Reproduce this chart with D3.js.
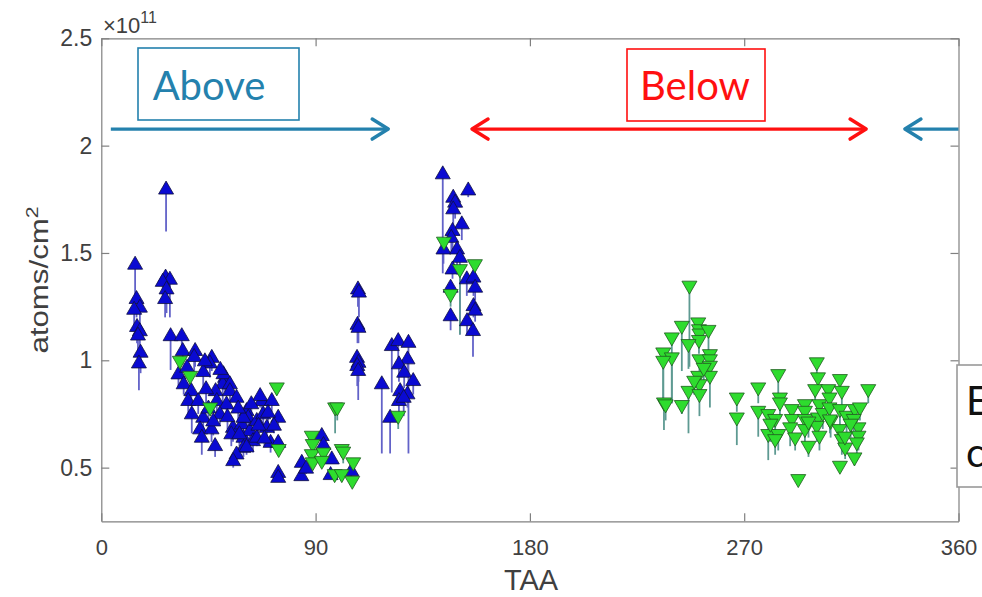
<!DOCTYPE html>
<html>
<head>
<meta charset="utf-8">
<script src="https://cdn.jsdelivr.net/npm/d3@7"></script>
<style>
  body { margin: 0; background: #fff; }
  svg { font-family: "Liberation Sans", Arial, sans-serif; }
  .axis path, .axis line { stroke: #808080; stroke-width: 1.2; }
  .axis text { fill: #404040; }
</style>
</head>
<body>
<div id="chart"></div>
<script>
// values in units of 1e11 atoms/cm^2, TAA in degrees
// upward triangles (blue)
var upTaa = [14.2, 14.8, 16.2, 13.8, 15.0, 16.2, 15.4, 16.5, 15.8,
  27.2, 27.0, 28.8, 25.8, 27.4, 26.8, 29.1, 33.8,
  34.2, 39.4, 39.0, 46.4, 45.6, 32.4, 42.8, 34.6, 52.0, 51.0, 51.3, 54.0, 48.0, 37.8, 36.5, 40.7, 48.5, 54.0,
  56.8, 52.6, 49.8, 38.0, 42.8, 41.5, 42.2, 47.8, 46.3, 55.3, 54.6, 59.0, 59.7, 61.0, 61.7, 59.7, 62.4, 63.7,
  65.3, 68.0, 67.4, 66.7, 71.6, 69.5, 65.3, 59.7, 56.8, 55.4, 71.1, 74.3, 74.3, 74.3, 74.3,
  44.0, 50.0, 57.5, 63.0, 70.0, 66.0, 58.0, 53.0, 45.0, 47.0, 36.0, 43.5, 72.5, 68.5, 61.0,
  84.2, 84.0, 92.6, 93.3, 96.8, 96.3, 105.0, 86.0,
  107.8, 108.2, 107.6, 108.0, 107.4, 108.0, 107.5, 107.9,
  117.8, 121.3, 122.0, 124.7, 129.0, 128.6, 125.0, 127.2, 131.0, 125.5, 128.6, 125.0, 127.0,
  143.4, 154.1, 147.8, 148.6, 147.8, 151.4, 147.5, 147.0, 143.7, 149.4, 150.6, 147.5, 153.5, 156.3, 157.0,
  146.7, 156.3, 157.0, 146.7, 153.6, 156.1];
var upVal = [1.45, 1.29, 1.25, 1.24, 1.16, 1.14, 1.12, 1.04, 0.99,
  1.80, 1.39, 1.38, 1.37, 1.335, 1.29, 1.117, 1.117,
  1.048, 1.048, 1.02, 1.016, 0.99, 0.939, 0.95, 0.893, 0.923, 0.893, 0.94, 0.893, 0.861, 0.861, 0.815, 0.815, 0.815, 0.861,
  0.83, 0.799, 0.753, 0.753, 0.737, 0.683, 0.644, 0.605, 0.683, 0.69, 0.66, 0.706, 0.644, 0.768, 0.737, 0.737, 0.675, 0.628,
  0.722, 0.753, 0.815, 0.838, 0.815, 0.69, 0.644, 0.597, 0.566, 0.535, 0.62, 0.737, 0.62, 0.48, 0.457,
  0.87, 0.96, 0.78, 0.80, 0.76, 0.70, 0.66, 0.74, 0.78, 0.72, 0.97, 1.00, 0.70, 0.64, 0.60,
  0.527, 0.465, 0.652, 0.61, 0.543, 0.47, 0.488, 0.50,
  1.335, 1.32, 1.17, 1.156, 1.016, 0.993, 0.978, 0.955,
  0.893, 0.737, 1.071, 1.094, 1.086, 1.009, 0.986, 0.947, 0.908, 0.861, 0.846, 0.815, 0.83,
  1.871, 1.796, 1.762, 1.739, 1.708, 1.638, 1.607, 1.575, 1.521, 1.521, 1.482, 1.428, 1.382, 1.39, 1.343,
  1.343, 1.257, 1.236, 1.21, 1.187, 1.141];
var upLow = [1.27, 1.20, 1.10, 1.14, 1.08, 1.05, 1.02, 0.94, 0.86,
  1.60, 1.30, 1.20, 1.28, 1.22, 1.20, 0.955, 1.06,
  0.98, 0.97, 0.93, 0.95, 0.92, 0.88, 0.87, 0.84, 0.85, 0.80, 0.88, 0.82, 0.78, 0.80, 0.74, 0.75, 0.72, 0.80,
  0.76, 0.72, 0.70, 0.66, 0.67, 0.62, 0.56, 0.55, 0.62, 0.62, 0.60, 0.64, 0.58, 0.70, 0.68, 0.68, 0.61, 0.57,
  0.66, 0.70, 0.76, 0.78, 0.76, 0.63, 0.60, 0.55, 0.52, 0.50, 0.57, 0.68, 0.58, 0.45, 0.44,
  0.80, 0.90, 0.72, 0.74, 0.70, 0.64, 0.60, 0.68, 0.70, 0.65, 0.92, 0.94, 0.66, 0.60, 0.56,
  0.50, 0.45, 0.60, 0.57, 0.52, 0.45, 0.46, 0.47,
  1.25, 1.20, 1.08, 1.08, 0.95, 0.90, 0.88, 0.815,
  0.566, 0.566, 0.85, 1.00, 0.566, 0.92, 0.90, 0.87, 0.84, 0.80, 0.78, 0.74, 0.74,
  1.405, 1.76, 1.70, 1.66, 1.60, 1.56, 1.50, 1.50, 1.45, 1.40, 1.12, 1.38, 1.30, 1.30, 1.28,
  1.28, 1.20, 1.18, 1.14, 1.12, 1.016];

// downward triangles (green)
var downTaa = [33.0, 37.3, 45.7, 73.7, 74.5, 88.4, 88.8, 88.4, 88.8, 93.3, 92.6, 98.2, 99.1, 101.0, 101.6, 98.0, 101.0, 105.8, 105.4,
  124.7, 143.9, 156.9, 150.6, 146.7,
  247.0, 243.8, 239.6, 250.7, 251.0, 251.2, 251.0, 255.0, 246.6, 236.0, 239.6, 236.0, 251.2, 255.6, 255.6, 255.6, 255.6,
  250.7, 251.2, 246.6, 251.2, 236.3, 237.0, 243.8, 253.0, 249.0,
  266.9, 266.9, 275.9, 275.9, 284.3, 285.0, 285.0, 280.1, 283.0, 280.1, 284.3, 283.0, 281.0, 290.0, 290.0, 289.3, 291.4,
  295.5, 295.5, 295.5, 295.5, 292.7, 300.5, 301.0, 299.8, 301.6, 301.0, 300.5, 301.6, 297.0, 297.0, 303.0,
  305.3, 305.8, 305.8, 306.3, 310.2, 311.0, 310.2, 313.0, 310.0, 311.0, 312.4, 310.2, 316.5, 318.6, 316.0, 318.0, 318.0,
  317.3, 316.3, 322.1, 314.7, 312.3, 306.0];
var downVal = [0.993, 0.923, 0.776, 0.869, 0.582, 0.644, 0.605, 0.558, 0.52, 0.566, 0.527, 0.776, 0.776, 0.582, 0.57, 0.465, 0.465, 0.52, 0.434,
  0.737, 1.548, 1.443, 1.42, 1.304,
  1.343, 1.156, 1.102, 1.172, 1.14, 1.12, 1.09, 1.137, 1.071, 1.032, 1.009, 0.993, 1.0, 1.024, 1.0, 0.97, 0.923,
  0.923, 0.884, 0.853, 0.838, 0.799, 0.79, 0.787, 0.96, 0.90,
  0.822, 0.729, 0.869, 0.76, 0.931, 0.822, 0.799, 0.745, 0.722, 0.652, 0.652, 0.628, 0.70, 0.768, 0.722, 0.683, 0.636,
  0.791, 0.76, 0.722, 0.675, 0.442, 0.986, 0.916, 0.861, 0.791, 0.729, 0.69, 0.644, 0.597, 0.71, 0.75,
  0.861, 0.822, 0.776, 0.713, 0.908, 0.853, 0.768, 0.737, 0.675, 0.628, 0.589, 0.504, 0.768, 0.776, 0.722, 0.683, 0.644,
  0.613, 0.543, 0.861, 0.70, 0.64, 0.72];
var downLow = [0.95, 0.88, 0.74, 0.84, 0.56, 0.62, 0.58, 0.53, 0.50, 0.54, 0.50, 0.66, 0.72, 0.55, 0.52, 0.45, 0.44, 0.49, 0.42,
  0.68, 1.50, 1.40, 1.12, 1.25,
  0.97, 0.95, 0.80, 1.10, 1.08, 1.06, 1.03, 0.90, 0.96, 0.80, 0.80, 0.80, 0.95, 0.97, 0.94, 0.90, 0.78,
  0.87, 0.82, 0.66, 0.74, 0.675, 0.72, 0.75, 0.90, 0.84,
  0.76, 0.605, 0.80, 0.644, 0.84, 0.76, 0.74, 0.66, 0.64, 0.535, 0.58, 0.56, 0.62, 0.70, 0.66, 0.60, 0.58,
  0.72, 0.70, 0.66, 0.60, 0.42, 0.92, 0.86, 0.80, 0.73, 0.66, 0.62, 0.58, 0.55, 0.64, 0.68,
  0.80, 0.76, 0.70, 0.64, 0.84, 0.78, 0.70, 0.66, 0.60, 0.56, 0.54, 0.48, 0.70, 0.72, 0.66, 0.62, 0.58,
  0.56, 0.51, 0.80, 0.64, 0.58, 0.66];

var xTicks = [0, 90, 180, 270, 360];
var yTicks = [0.5, 1, 1.5, 2, 2.5];

// annotation positions in data units
var aboveArrow = [4, 120.5, 2.077];
var belowArrow = [155.7, 321.2, 2.077];
var rightArrow = [337.5, 360, 2.077];

var svgWidth = 982;
var svgHeight = 597;

var margin = { top: 38.3, right: 23.5, bottom: 75.7, left: 101.3 };
var width = svgWidth - margin.left - margin.right;
var height = svgHeight - margin.top - margin.bottom;

var svg = d3
  .select("#chart")
  .append("svg")
  .attr("width", svgWidth)
  .attr("height", svgHeight);

var chartGroup = svg
  .append("g")
  .attr("transform", `translate(${margin.left}, ${margin.top})`);

var x = d3.scaleLinear().domain([0, 360]).range([0, width]);
var y = d3.scaleLinear().domain([0.25, 2.5]).range([height, 0]);

var upData = upTaa.map((t, i) => ({ t: t, v: upVal[i], lo: upLow[i] }));
var downData = downTaa.map((t, i) => ({ t: t, v: downVal[i], lo: downLow[i] }));

// frame + ticks
chartGroup
  .append("g")
  .attr("class", "axis")
  .attr("transform", `translate(0, ${height})`)
  .call(d3.axisBottom(x).tickValues(xTicks).tickSizeInner(-8).tickSizeOuter(0).tickPadding(18))
  .selectAll("text")
  .attr("font-size", "22px");

chartGroup
  .append("g")
  .attr("class", "axis")
  .call(
    d3.axisLeft(y).tickValues(yTicks).tickSizeInner(-8).tickSizeOuter(0).tickPadding(9)
      .tickFormat((d) => String(d))
  )
  .selectAll("text")
  .attr("font-size", "23px");

chartGroup
  .append("g")
  .attr("class", "axis")
  .call(d3.axisTop(x).tickValues(xTicks).tickSizeInner(-8).tickSizeOuter(0).tickFormat(""));

chartGroup
  .append("g")
  .attr("class", "axis")
  .attr("transform", `translate(${width}, 0)`)
  .call(d3.axisRight(y).tickValues(yTicks).tickSizeInner(-8).tickSizeOuter(0).tickFormat(""));

// exponent
var expo = svg.append("text").attr("x", 103).attr("y", 33).attr("fill", "#404040").attr("font-size", "22px");
expo.append("tspan").text("\u00d710");
expo.append("tspan").attr("font-size", "16px").attr("dy", "-10").text("11");

// axis labels
svg
  .append("text")
  .attr("transform", "translate(531, 590)")
  .attr("text-anchor", "middle")
  .attr("font-size", "29px")
  .attr("fill", "#404040")
  .text("TAA");

var yLabel = svg
  .append("text")
  .attr("transform", "translate(48, 280) rotate(-90) scale(1.25, 1)")
  .attr("text-anchor", "middle")
  .attr("font-size", "25px")
  .attr("fill", "#404040");
yLabel.append("tspan").text("atoms/cm");
yLabel.append("tspan").attr("font-size", "17px").attr("dy", "-10").text("2");

// stems
chartGroup
  .selectAll(".upStem")
  .data(upData)
  .enter()
  .append("line")
  .attr("class", "upStem")
  .attr("x1", (d) => x(d.t))
  .attr("x2", (d) => x(d.t))
  .attr("y1", (d) => y(d.v))
  .attr("y2", (d) => y(d.lo))
  .attr("stroke", "#6262c8")
  .attr("stroke-width", 1.8);

chartGroup
  .selectAll(".downStem")
  .data(downData)
  .enter()
  .append("line")
  .attr("class", "downStem")
  .attr("x1", (d) => x(d.t))
  .attr("x2", (d) => x(d.t))
  .attr("y1", (d) => y(d.v))
  .attr("y2", (d) => y(d.lo))
  .attr("stroke", "#5e9a92")
  .attr("stroke-width", 1.8);

// markers
var upTri = "M0,-7.5L7.5,5.5L-7.5,5.5Z";
var downTri = "M-7.5,-5.5L7.5,-5.5L0,7.5Z";

chartGroup
  .selectAll(".upMark")
  .data(upData)
  .enter()
  .append("path")
  .attr("class", "upMark")
  .attr("d", upTri)
  .attr("transform", (d) => `translate(${x(d.t)}, ${y(d.v)})`)
  .attr("fill", "#0a0ad2")
  .attr("stroke", "#101040")
  .attr("stroke-width", 0.8);

chartGroup
  .selectAll(".downMark")
  .data(downData)
  .enter()
  .append("path")
  .attr("class", "downMark")
  .attr("d", downTri)
  .attr("transform", (d) => `translate(${x(d.t)}, ${y(d.v)})`)
  .attr("fill", "#2edc2e")
  .attr("stroke", "#1f5a1f")
  .attr("stroke-width", 0.8);

// annotations
var teal = "#2481ad";
var red = "#ff1010";

function arrowHead(px, py, dir, color) {
  chartGroup
    .append("path")
    .attr("d", `M${px - dir * 16},${py - 10}L${px},${py}L${px - dir * 16},${py + 10}`)
    .attr("fill", "none")
    .attr("stroke", color)
    .attr("stroke-width", 3.5)
    .attr("stroke-linecap", "round")
    .attr("stroke-linejoin", "round");
}

function hLine(x1, x2, yy, color) {
  chartGroup
    .append("line")
    .attr("x1", x(x1))
    .attr("x2", x(x2))
    .attr("y1", y(yy))
    .attr("y2", y(yy))
    .attr("stroke", color)
    .attr("stroke-width", 3.2);
}

hLine(aboveArrow[0], aboveArrow[1], aboveArrow[2], teal);
arrowHead(x(aboveArrow[1]), y(aboveArrow[2]), 1, teal);

hLine(belowArrow[0], belowArrow[1], belowArrow[2], red);
arrowHead(x(belowArrow[0]), y(belowArrow[2]), -1, red);
arrowHead(x(belowArrow[1]), y(belowArrow[2]), 1, red);

hLine(rightArrow[0], rightArrow[1], rightArrow[2], teal);
arrowHead(x(rightArrow[0]), y(rightArrow[2]), -1, teal);

svg
  .append("rect")
  .attr("x", 138).attr("y", 48).attr("width", 161).attr("height", 72)
  .attr("fill", "#fff").attr("stroke", teal).attr("stroke-width", 1.6);
svg
  .append("text")
  .attr("x", 209).attr("y", 100)
  .attr("text-anchor", "middle")
  .attr("font-family", "Lato, 'Open Sans', sans-serif")
  .attr("font-size", "40px")
  .attr("fill", teal)
  .text("Above");

svg
  .append("rect")
  .attr("x", 627).attr("y", 49).attr("width", 138).attr("height", 72)
  .attr("fill", "#fff").attr("stroke", red).attr("stroke-width", 1.6);
svg
  .append("text")
  .attr("x", 695).attr("y", 100)
  .attr("text-anchor", "middle")
  .attr("font-family", "Lato, 'Open Sans', sans-serif")
  .attr("font-size", "40px")
  .attr("fill", red)
  .text("Below");

// side box, cut by the page edge as in the source
svg
  .append("rect")
  .attr("x", 957).attr("y", 365).attr("width", 40).attr("height", 122)
  .attr("fill", "#fff").attr("stroke", "#999").attr("stroke-width", 1.6);
svg
  .append("text")
  .attr("x", 966).attr("y", 415)
  .attr("font-family", "Lato, 'Open Sans', sans-serif")
  .attr("font-size", "40px")
  .attr("fill", "#111")
  .text("E");
svg
  .append("text")
  .attr("x", 966).attr("y", 467)
  .attr("font-family", "Lato, 'Open Sans', sans-serif")
  .attr("font-size", "40px")
  .attr("fill", "#111")
  .text("c");
</script>
</body>
</html>
